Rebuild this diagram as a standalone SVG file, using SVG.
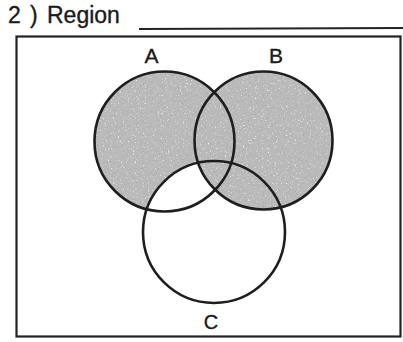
<svg xmlns="http://www.w3.org/2000/svg" width="403" height="342" viewBox="0 0 403 342">
<style>
.lbl{font-family:"Liberation Sans",Arial,sans-serif;fill:#1a1a1a;stroke:#1a1a1a;stroke-width:0.35}
.ring{fill:none;stroke:#1e1e1e;stroke-width:2.6}
.shade{fill:#bababa}
.frame{fill:none;stroke:#222;stroke-width:2.2}
</style>
<defs>
<filter id="grain" x="0" y="0" width="100%" height="100%" filterUnits="objectBoundingBox">
<feTurbulence type="fractalNoise" baseFrequency="0.6" numOctaves="2" seed="7" result="t"/>
<feColorMatrix in="t" type="matrix" values="0 0 0 0 0.4 0 0 0 0 0.4 0 0 0 0 0.4 4 0 0 0 -2.3" result="dark"/>
<feColorMatrix in="t" type="matrix" values="0 0 0 0 0.92 0 0 0 0 0.92 0 0 0 0 0.92 0 -4 0 0 1.5" result="light"/>
<feComposite in="dark" in2="SourceGraphic" operator="in" result="d2"/>
<feComposite in="light" in2="SourceGraphic" operator="in" result="l2"/>
<feMerge><feMergeNode in="SourceGraphic"/><feMergeNode in="l2"/><feMergeNode in="d2"/></feMerge>
</filter>
<mask id="notC">
<rect x="0" y="0" width="403" height="342" fill="#fff"/>
<circle cx="214" cy="232" r="71" fill="#000"/>
</mask>
</defs>
<text class="lbl" x="8" y="23" font-size="23">2<tspan x="30">)</tspan><tspan x="47">Region</tspan></text>
<line x1="139" y1="29" x2="403" y2="28" stroke="#222" stroke-width="2"/>
<rect class="frame" x="16.5" y="36.5" width="384" height="300"/>
<g id="shading" filter="url(#grain)">
<circle class="shade" cx="164.5" cy="141.5" r="70" mask="url(#notC)"/>
<circle class="shade" cx="263.5" cy="140.5" r="69"/>
</g>
<g id="A"><circle class="ring" cx="164.5" cy="141.5" r="70"/><text class="lbl" x="151.5" y="63" font-size="21" text-anchor="middle">A</text></g>
<g id="B"><circle class="ring" cx="263.5" cy="140.5" r="69"/><text class="lbl" x="276" y="63" font-size="21" text-anchor="middle">B</text></g>
<g id="C"><circle class="ring" cx="214" cy="232" r="71"/><text class="lbl" x="211" y="329" font-size="20" text-anchor="middle">C</text></g>
<g id="connectors"/>
</svg>
